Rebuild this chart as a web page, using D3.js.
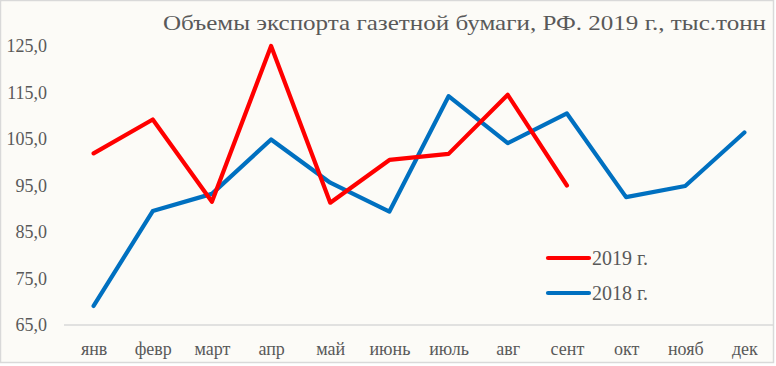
<!DOCTYPE html>
<html><head><meta charset="utf-8">
<script src="https://cdn.jsdelivr.net/npm/d3@7"></script>
<style>html,body{margin:0;padding:0;background:#fff}</style>
</head><body>
<script>
const months = ["янв","февр","март","апр","май","июнь","июль","авг","сент","окт","нояб","дек"];
const values2019 = [101.9,109.2,91.5,125.0,91.3,100.5,101.8,114.5,95.0];
const values2018 = [69.1,89.5,93.2,104.9,95.6,89.4,114.2,104.1,110.5,92.5,94.9,106.4];
const yTicks = [65,75,85,95,105,115,125];
const title = "Объемы экспорта газетной бумаги, РФ. 2019 г., тыс.тонн";
const seriesNames = ["2019 г.","2018 г."];

const W=776,H=366;
const font="Liberation Serif, serif";
const svg=d3.select("body").append("svg").attr("width",W).attr("height",H);
svg.append("rect").attr("x",0.5).attr("y",0.5).attr("width",W-3).attr("height",H-4)
  .attr("fill","#FCFBF7").attr("stroke","#D9D9D9").attr("stroke-width",1.5);

const x=d3.scalePoint().domain(months).range([93.6,744.4]);
const y=d3.scaleLinear().domain([65,125]).range([325,46]);

svg.append("text").attr("x",766).attr("y",30).attr("text-anchor","end")
  .style("font-family",font).attr("font-size",21).attr("fill","#595959")
  .attr("textLength",603).attr("lengthAdjust","spacingAndGlyphs").text(title);

const yAxis=svg.append("g").attr("transform","translate(47,0)")
  .call(d3.axisLeft(y).tickValues(yTicks).tickSize(0).tickPadding(0)
    .tickFormat(d=>d3.format(".1f")(d).replace(".",",")));
yAxis.select(".domain").remove();
yAxis.selectAll("text").style("font-family",font).style("font-size","18px").attr("fill","#595959");

const xAxis=svg.append("g").attr("transform","translate(0,325)")
  .call(d3.axisBottom(x).tickSize(0).tickPadding(17));
xAxis.select(".domain").remove();
xAxis.selectAll("text").style("font-family",font).style("font-size","18px").attr("fill","#595959");
svg.append("line").attr("x1",64).attr("x2",774).attr("y1",325).attr("y2",325)
  .attr("stroke","#D9D9D9").attr("stroke-width",1.3);

const line=d3.line().x((d,i)=>x(months[i])).y(d=>y(d));
svg.append("path").datum(values2018).attr("d",line).attr("fill","none")
  .attr("stroke","#0070C0").attr("stroke-width",4.2).attr("stroke-linecap","round").attr("stroke-linejoin","round");
svg.append("path").datum(values2019).attr("d",line).attr("fill","none")
  .attr("stroke","#FF0000").attr("stroke-width",4.2).attr("stroke-linecap","round").attr("stroke-linejoin","round");

const legColors=["#FF0000","#0070C0"];
seriesNames.forEach((n,i)=>{
  const ly=258+i*35;
  svg.append("line").attr("x1",548).attr("x2",589).attr("y1",ly).attr("y2",ly)
    .attr("stroke",legColors[i]).attr("stroke-width",4.2).attr("stroke-linecap","round");
  svg.append("text").attr("x",592).attr("y",ly+7).style("font-family",font).style("font-size","20px")
    .attr("fill","#595959").text(n);
});
</script>
</body></html>
